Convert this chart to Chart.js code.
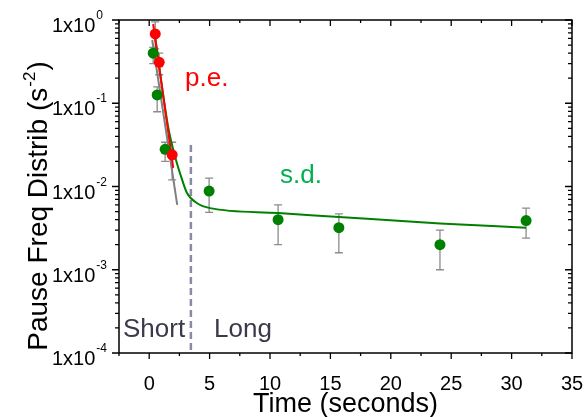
<!DOCTYPE html>
<html>
<head>
<meta charset="utf-8">
<script src="https://cdn.jsdelivr.net/npm/chart.js@4"></script>
<style>
  html, body { margin: 0; padding: 0; background: #ffffff; }
  #pauseChart { display: block; }
</style>
</head>
<body>
<canvas id="pauseChart" width="584" height="417"></canvas>
<script>
// Measured points (seconds, s^-2) with error bar ends
const greenX = [0.33, 0.66, 1.32, 4.96, 10.67, 15.7, 24.07, 31.2];
const greenY = [0.40, 0.126, 0.028, 0.0088, 0.0040, 0.0032, 0.0020, 0.0039];
const greenLo = [0.30, 0.079, 0.020, 0.0049, 0.0020, 0.0016, 0.0010, 0.0024];
const greenHi = [0.47, 0.157, 0.034, 0.0126, 0.0060, 0.0047, 0.0030, 0.0055];

const redX = [0.5, 0.83, 1.9];
const redY = [0.68, 0.31, 0.024];
const redLo = [0.45, 0.22, 0.012];
const redHi = [0.95, 0.40, 0.034];

// Fit curves
const redFitX = [0.33, 1.99];
const redFitY = [0.895, 0.0167];
const grayFitX = [0.25, 2.32];
const grayFitY = [0.575, 0.006];
const greenFitX = [0.41, 1.57, 2.15, 2.73, 3.14, 3.97, 5.05, 10.67, 15.7, 24.07, 31.2];
const greenFitY = [0.76, 0.0519, 0.0226, 0.012, 0.0083, 0.0063, 0.0055, 0.0048, 0.0043, 0.0036, 0.0032];

// Short / long boundary
const boundaryX = 3.45;
const boundaryTop = 0.0316;

// Axis ticks
const xTicks = [0, 5, 10, 15, 20, 25, 30, 35];
const xMinorTicks = [-2.5, 2.5, 7.5, 12.5, 17.5, 22.5, 27.5, 32.5];
const yTicks = [1, 0.1, 0.01, 0.001, 0.0001];
const yExponents = ["0", "-1", "-2", "-3", "-4"];

const FONT = "'Liberation Sans', Arial, sans-serif";

const toPoints = (xs, ys) => xs.map((x, i) => ({ x: x, y: ys[i] }));

const errorBars = {
  id: "errorBars",
  beforeDatasetsDraw(chart) {
    const { ctx, scales } = chart;
    const sets = [
      [greenX, greenLo, greenHi],
      [redX, redLo, redHi],
    ];
    ctx.save();
    ctx.strokeStyle = "#8c8c8c";
    ctx.lineWidth = 1.3;
    sets.forEach(([xs, lo, hi]) => {
      xs.forEach((x, i) => {
        const px = scales.x.getPixelForValue(x);
        const y1 = scales.y.getPixelForValue(lo[i]);
        const y2 = scales.y.getPixelForValue(hi[i]);
        ctx.beginPath();
        ctx.moveTo(px, y1);
        ctx.lineTo(px, y2);
        ctx.moveTo(px - 4, y1);
        ctx.lineTo(px + 4, y1);
        ctx.moveTo(px - 4, y2);
        ctx.lineTo(px + 4, y2);
        ctx.stroke();
      });
    });
    // dashed boundary line
    const bx = scales.x.getPixelForValue(boundaryX);
    ctx.strokeStyle = "#8a8aa6";
    ctx.lineWidth = 2.5;
    ctx.setLineDash([7, 4]);
    ctx.beginPath();
    ctx.moveTo(bx, scales.y.getPixelForValue(boundaryTop));
    ctx.lineTo(bx, scales.y.getPixelForValue(1e-4));
    ctx.stroke();
    ctx.restore();
  },
};

// Frame, ticks and labels drawn by hand (Origin style)
const frame = {
  id: "frame",
  afterDraw(chart) {
    const { ctx, chartArea: a, scales } = chart;
    ctx.save();
    ctx.strokeStyle = "#000000";
    ctx.lineWidth = 1.5;
    ctx.strokeRect(a.left, a.top, a.right - a.left, a.bottom - a.top);

    ctx.lineWidth = 1.3;
    ctx.beginPath();
    xTicks.forEach((t) => {
      const px = scales.x.getPixelForValue(t);
      ctx.moveTo(px, a.bottom); ctx.lineTo(px, a.bottom + 6);
      ctx.moveTo(px, a.top); ctx.lineTo(px, a.top + 6);
    });
    xMinorTicks.forEach((t) => {
      const px = scales.x.getPixelForValue(t);
      ctx.moveTo(px, a.bottom); ctx.lineTo(px, a.bottom + 3);
      ctx.moveTo(px, a.top); ctx.lineTo(px, a.top + 3);
    });
    yTicks.forEach((t, i) => {
      const py = scales.y.getPixelForValue(t);
      ctx.moveTo(a.left - 7, py); ctx.lineTo(a.left, py);
      ctx.moveTo(a.right - 7, py); ctx.lineTo(a.right, py);
      if (i < yTicks.length - 1) {
        for (let m = 2; m <= 9; m++) {
          const my = scales.y.getPixelForValue(t * m / 10);
          ctx.moveTo(a.left - 4, my); ctx.lineTo(a.left, my);
          ctx.moveTo(a.right - 4, my); ctx.lineTo(a.right, my);
        }
      }
    });
    ctx.stroke();

    ctx.fillStyle = "#000000";
    ctx.textAlign = "center";
    ctx.textBaseline = "alphabetic";
    ctx.font = "20px " + FONT;
    xTicks.forEach((t) => {
      ctx.fillText(String(t), scales.x.getPixelForValue(t), a.bottom + 37);
    });

    ctx.textAlign = "left";
    yTicks.forEach((t, i) => {
      const py = scales.y.getPixelForValue(t);
      ctx.font = "20px " + FONT;
      ctx.fillText("1x10", 52, py + 12);
      const w = ctx.measureText("1x10").width;
      ctx.font = "12px " + FONT;
      ctx.fillText(yExponents[i], 52 + w + 1, py - 1);
    });

    // axis titles
    ctx.font = "27px " + FONT;
    ctx.textAlign = "center";
    ctx.fillText("Time (seconds)", (a.left + a.right) / 2, 412);

    ctx.save();
    ctx.translate(47, 207);
    ctx.rotate(-Math.PI / 2);
    ctx.textAlign = "left";
    const mainFont = "28px " + FONT;
    const supFont = "17px " + FONT;
    ctx.font = mainFont;
    const part1 = "Pause Freq Distrib (s";
    const w1 = ctx.measureText(part1).width;
    const w3 = ctx.measureText(")").width;
    ctx.font = supFont;
    const w2 = ctx.measureText("-2").width;
    let x0 = -(w1 + w2 + w3) / 2;
    ctx.font = mainFont;
    ctx.fillText(part1, x0, 0);
    ctx.font = supFont;
    ctx.fillText("-2", x0 + w1 + 1, -12);
    ctx.font = mainFont;
    ctx.fillText(")", x0 + w1 + w2 + 2, 0);
    ctx.restore();

    // annotations
    ctx.font = "26px " + FONT;
    ctx.textAlign = "left";
    ctx.fillStyle = "#ff0000";
    ctx.fillText("p.e.", 185, 86);
    ctx.fillStyle = "#00b050";
    ctx.fillText("s.d.", 280, 183);
    ctx.fillStyle = "#3a3a4c";
    ctx.fillText("Short", 123, 337);
    ctx.fillText("Long", 214, 337);
    ctx.restore();
  },
};

const ctx = document.getElementById("pauseChart").getContext("2d");

const pauseChart = new Chart(ctx, {
  type: "scatter",
  data: {
    datasets: [
      {
        data: toPoints(redX, redY),
        backgroundColor: "#ff0000",
        borderWidth: 0,
        pointRadius: 5.5,
        order: 0,
      },
      {
        data: toPoints(greenX, greenY),
        backgroundColor: "#008000",
        borderWidth: 0,
        pointRadius: 5.5,
        order: 1,
      },
      {
        data: toPoints(redFitX, redFitY),
        showLine: true,
        borderColor: "#ff0000",
        borderWidth: 2,
        pointRadius: 0,
        order: 2,
      },
      {
        data: toPoints(greenFitX, greenFitY),
        showLine: true,
        borderColor: "#008000",
        borderWidth: 2,
        pointRadius: 0,
        cubicInterpolationMode: "monotone",
        order: 3,
      },
      {
        data: toPoints(grayFitX, grayFitY),
        showLine: true,
        borderColor: "#808080",
        borderWidth: 2,
        pointRadius: 0,
        order: 4,
      },
    ],
  },
  options: {
    responsive: false,
    maintainAspectRatio: false,
    animation: false,
    layout: {
      padding: { left: 119, right: 12, top: 20, bottom: 64 },
    },
    scales: {
      x: { type: "linear", min: -2.5, max: 35, display: false },
      y: { type: "logarithmic", min: 1e-4, max: 1, display: false },
    },
    plugins: {
      legend: { display: false },
      tooltip: { enabled: false },
    },
  },
  plugins: [errorBars, frame],
});
</script>
</body>
</html>
